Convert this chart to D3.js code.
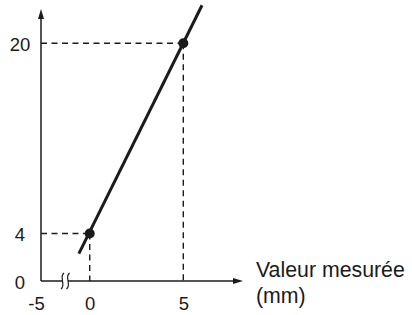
<!DOCTYPE html>
<html>
<head>
<meta charset="utf-8">
<script src="https://cdn.jsdelivr.net/npm/d3@7"></script>
<style>
  body { margin: 0; background: #fff; }
  svg { display: block; font-family: "Liberation Sans", Arial, sans-serif; }
</style>
</head>
<body>
<script>
const xTicks = [-5, 0, 5];
const yTicks = [0, 4, 20];
const points = [{ x: 0, y: 4 }, { x: 5, y: 20 }];
const lineEnds = [{ x: -0.58, y: 2.3 }, { x: 6.0, y: 23.2 }];
const xTitle = ["Valeur mesurée", "(mm)"];

const w = 412, h = 315;
const ink = "#1b1b1b";
const font = "'Liberation Sans', Arial, sans-serif";

// x axis is broken between -5 and 0, so the scale is piecewise
const xScale = d3.scaleLinear()
  .domain([-5, -1, 5])
  .range([41, 71, 183.3]);

const yScale = d3.scaleLinear()
  .domain([0, 20])
  .range([281, 43.3]);

const svg = d3.select("body").append("svg")
  .attr("width", w)
  .attr("height", h);

// dashed guides
points.forEach(p => {
  svg.append("line")
    .attr("x1", xScale(-5)).attr("x2", xScale(p.x))
    .attr("y1", yScale(p.y)).attr("y2", yScale(p.y))
    .attr("stroke", ink).attr("stroke-width", 1.4)
    .attr("stroke-dasharray", "6,4.5");
  svg.append("line")
    .attr("x1", xScale(p.x)).attr("x2", xScale(p.x))
    .attr("y1", yScale(p.y)).attr("y2", yScale(0))
    .attr("stroke", ink).attr("stroke-width", 1.4)
    .attr("stroke-dasharray", "6,4.5");
});

// axes lines with arrows
const x0 = xScale(-5), y0 = yScale(0);
svg.append("line")
  .attr("x1", x0).attr("x2", 236)
  .attr("y1", y0).attr("y2", y0)
  .attr("stroke", ink).attr("stroke-width", 1.5);
svg.append("path")
  .attr("d", `M243,${y0} L233,${y0 - 3} L233,${y0 + 3} Z`)
  .attr("fill", ink);
svg.append("line")
  .attr("x1", x0).attr("x2", x0)
  .attr("y1", y0).attr("y2", 16)
  .attr("stroke", ink).attr("stroke-width", 1.5);
svg.append("path")
  .attr("d", `M${x0},9 L${x0 - 3},19 L${x0 + 3},19 Z`)
  .attr("fill", ink);

// axis break marks
svg.append("rect")
  .attr("x", 62.5).attr("y", y0 - 2.5)
  .attr("width", 5.5).attr("height", 5)
  .attr("fill", "#fff");
[62.5, 68].forEach(cx => {
  svg.append("path")
    .attr("d", `M${cx + 1.5},${y0 - 8} C${cx - 4},${y0 - 4} ${cx + 4},${y0 + 4} ${cx - 1.5},${y0 + 8}`)
    .attr("fill", "none")
    .attr("stroke", ink).attr("stroke-width", 1.2);
});

// tick labels via axes
const xAxis = d3.axisBottom(xScale)
  .tickValues(xTicks)
  .tickSize(0)
  .tickPadding(16)
  .tickFormat(d => String(d));
const gx = svg.append("g")
  .attr("transform", `translate(0,${y0})`)
  .call(xAxis);
gx.attr("font-family", font);
gx.select(".domain").remove();
gx.selectAll("text")
  .attr("font-size", 18.5)
  .attr("fill", ink);
gx.selectAll(".tick").filter(d => d === -5).select("text").attr("x", -5);

const yAxis = d3.axisLeft(yScale)
  .tickValues(yTicks)
  .tickSize(0)
  .tickPadding(0)
  .tickFormat(d => String(d));
const gy = svg.append("g")
  .attr("transform", "translate(20,0)")
  .call(yAxis);
gy.attr("font-family", font);
gy.select(".domain").remove();
gy.selectAll("text")
  .attr("x", 0)
  .attr("dy", "0.4em")
  .attr("text-anchor", "middle")
  .attr("font-size", 18.5)
  .attr("fill", ink);

// x axis title
svg.append("text")
  .attr("x", 256)
  .attr("y", 277)
  .attr("font-size", 21.3)
  .attr("fill", ink)
  .selectAll("tspan")
  .data(xTitle)
  .enter()
  .append("tspan")
  .attr("x", 256)
  .attr("dy", (d, i) => i === 0 ? 0 : 26)
  .text(d => d);

// calibration line
svg.append("path")
  .datum(lineEnds)
  .attr("d", d3.line().x(d => xScale(d.x)).y(d => yScale(d.y)))
  .attr("stroke", ink)
  .attr("stroke-width", 3)
  .attr("fill", "none");

svg.selectAll("circle")
  .data(points)
  .enter()
  .append("circle")
  .attr("cx", d => xScale(d.x))
  .attr("cy", d => yScale(d.y))
  .attr("r", 5)
  .attr("fill", ink);
</script>
</body>
</html>
